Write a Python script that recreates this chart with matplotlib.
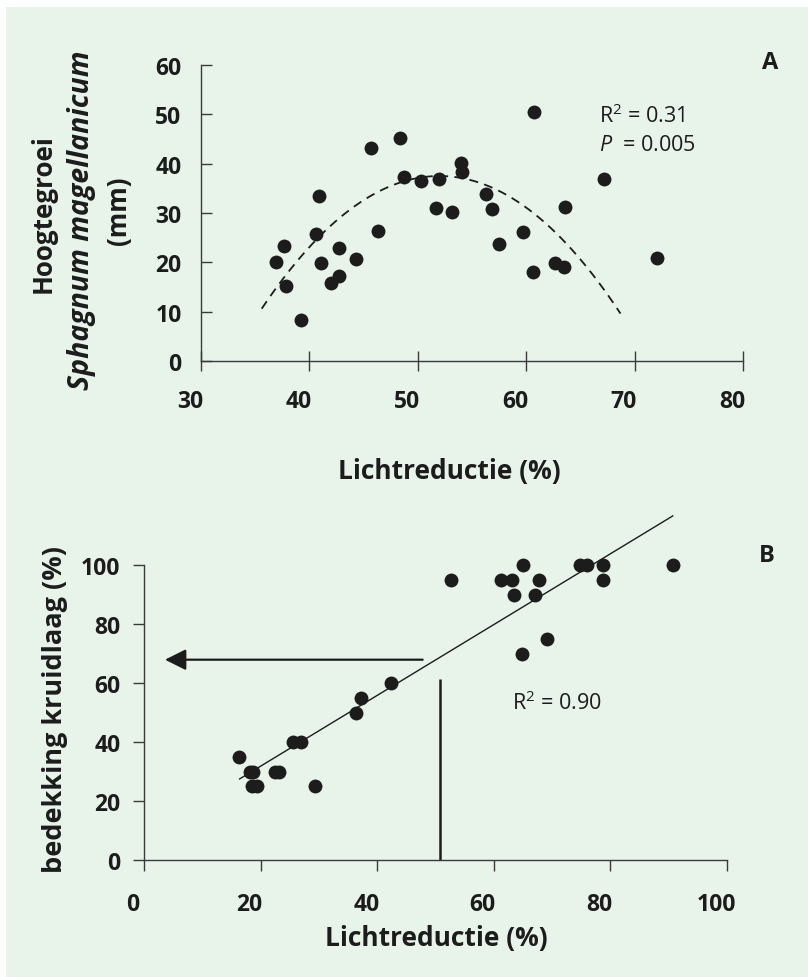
import matplotlib
matplotlib.use('Agg')
import matplotlib.pyplot as plt
import numpy as np
from matplotlib.patches import Rectangle
from matplotlib import transforms

# ---------------- data ----------------
# Panel A: Hoogtegroei Sphagnum magellanicum vs Lichtreductie
a_x = [36.9, 37.7, 37.8, 39.2, 40.6, 40.9, 41.1, 42.0, 42.7, 42.7, 44.3, 45.7,
       46.3, 48.4, 48.7, 50.3, 52.0, 51.7, 53.2, 54.0, 54.1, 56.3, 56.8, 57.5,
       59.7, 60.6, 60.7, 62.7, 63.5, 63.6, 67.2, 72.1]
a_y = [20.0, 23.3, 15.2, 8.3, 25.8, 33.5, 19.9, 15.8, 22.9, 17.2, 20.7, 43.2,
       26.4, 45.2, 37.3, 36.5, 36.9, 31.0, 30.3, 40.1, 38.3, 33.9, 30.8, 23.7,
       26.2, 18.0, 50.5, 19.9, 19.1, 31.2, 36.9, 20.9]
# quadratic fit: y = peak + curv * (x - vertex)^2
a_fit_vertex = 52.0
a_fit_peak = 37.5
a_fit_curv = -0.1000
a_fit_range = (35.6, 68.7)
a_xticks = [30, 40, 50, 60, 70, 80]
a_yticks = [0, 10, 20, 30, 40, 50, 60]

# Panel B: bedekking kruidlaag vs Lichtreductie
b_x = [16.3, 18.1, 18.7, 18.5, 19.3, 22.5, 23.1, 25.5, 27.0, 29.4, 36.4, 37.2,
       42.4, 52.6, 61.3, 63.1, 65.0, 63.5, 67.7, 67.0, 64.9, 69.2, 74.7, 76.0,
       78.8, 78.8, 90.7]
b_y = [35, 30, 30, 25, 25, 30, 30, 40, 40, 25, 50, 55,
       60, 95, 95, 95, 100, 90, 95, 90, 70, 75, 100, 100,
       100, 95, 100]
b_fit_slope = 1.20
b_fit_intercept = 7.8
b_fit_range = (16.4, 90.7)
b_arrow_y = 67.9
b_arrow_from = 47.8
b_arrow_to = 3.6
b_vline_x = 50.8
b_vline_top = 61.2
b_ticks = [0, 20, 40, 60, 80, 100]

# ---------------- style ----------------
bg = '#e8f3ea'
ink = '#1c1c1c'
axc = '#3a3a3a'
font = 'Open Sans'
tick_fs = 16.5

plt.rcParams['mathtext.fontset'] = 'custom'
plt.rcParams['mathtext.rm'] = 'Open Sans'
plt.rcParams['mathtext.it'] = 'Open Sans:italic'

W, H = 808, 978
fig = plt.figure(figsize=(W / 100, H / 100), dpi=100)
fig.patch.set_facecolor('white')
fig.patches.append(Rectangle((6 / W, 0), 1 - 6 / W, 1 - 8 / H,
                             transform=fig.transFigure, facecolor=bg,
                             edgecolor='none', zorder=-10))

def fx(px):
    return px / W

def fy(py):
    return 1 - py / H

shift = transforms.ScaledTranslation(-11 / 100, 0, fig.dpi_scale_trans)

def style_ticklabels(ax):
    for lab in ax.get_yticklabels():
        lab.set_fontfamily(font)
        lab.set_fontweight('bold')
        lab.set_fontsize(tick_fs)
        lab.set_color(ink)
    for lab in ax.get_xticklabels():
        lab.set_fontfamily(font)
        lab.set_fontweight('bold')
        lab.set_fontsize(tick_fs)
        lab.set_color(ink)
        lab.set_transform(lab.get_transform() + shift)

# ---------------- Panel A ----------------
axA = fig.add_axes([fx(201), fy(362), fx(743) - fx(201), fy(66) - fy(362)])
axA.set_facecolor('none')
axA.scatter(a_x, a_y, s=100, color=ink, zorder=3, linewidths=0, clip_on=False)
xf = np.linspace(a_fit_range[0], a_fit_range[1], 200)
axA.plot(xf, a_fit_peak + a_fit_curv * (xf - a_fit_vertex) ** 2,
         color=ink, lw=1.3, dashes=(5, 3.5), zorder=2, clip_on=False)
axA.set_xlim(30, 80)
axA.set_ylim(0, 60)
axA.set_xticks(a_xticks)
axA.set_yticks(a_yticks)
for s in ['top', 'right']:
    axA.spines[s].set_visible(False)
for s in ['left', 'bottom']:
    axA.spines[s].set_color(axc)
    axA.spines[s].set_linewidth(1.0)
axA.tick_params(axis='y', direction='in', length=8, width=1.0, color=axc, pad=14)
axA.tick_params(axis='x', direction='inout', length=14, width=1.0, color=axc, pad=13)
style_ticklabels(axA)

axA.text(0.735, 0.832, 'R$^{2}$ = 0.31', transform=axA.transAxes,
         fontfamily=font, fontsize=15.5, color=ink, va='center', ha='left')
axA.text(0.735, 0.73, '$\\mathit{P}$  = 0.005', transform=axA.transAxes,
         fontfamily=font, fontsize=15.5, color=ink, va='center', ha='left')

fig.text(fx(770), fy(63), 'A', fontfamily=font, fontweight='bold',
         fontsize=17, color=ink, ha='center', va='center')
fig.text(fx(43), fy(214), 'Hoogtegroei', rotation=90, fontfamily=font,
         fontweight='bold', fontsize=18.7, color=ink, ha='center', va='center')
fig.text(fx(82), fy(220), 'Sphagnum magellanicum', rotation=90, fontfamily=font,
         fontweight='bold', fontstyle='italic', fontsize=20.5, color=ink,
         ha='center', va='center')
fig.text(fx(119), fy(211), '(mm)', rotation=90, fontfamily=font,
         fontweight='bold', fontsize=18.7, color=ink, ha='center', va='center')
fig.text(fx(449), fy(472), 'Lichtreductie (%)', fontfamily=font,
         fontweight='bold', fontsize=19, color=ink, ha='center', va='center')

# ---------------- Panel B ----------------
axB = fig.add_axes([fx(144), fy(861), fx(727) - fx(144), fy(566) - fy(861)])
axB.set_facecolor('none')
axB.scatter(b_x, b_y, s=100, color=ink, zorder=3, linewidths=0, clip_on=False)
xl = np.array(b_fit_range)
axB.plot(xl, b_fit_intercept + b_fit_slope * xl, color=ink, lw=1.0, zorder=2,
         clip_on=False)
axB.annotate('', xy=(b_arrow_to, b_arrow_y), xytext=(b_arrow_from, b_arrow_y),
             arrowprops=dict(arrowstyle='-|>,head_length=0.8,head_width=0.4',
                             mutation_scale=16, lw=1.6, color=ink,
                             shrinkA=0, shrinkB=0), zorder=2)
axB.plot([b_vline_x, b_vline_x], [0, b_vline_top], color=ink, lw=1.8, zorder=2,
         solid_capstyle='butt')
axB.set_xlim(0, 100)
axB.set_ylim(0, 100)
axB.set_xticks(b_ticks)
axB.set_yticks(b_ticks)
for s in ['top', 'right']:
    axB.spines[s].set_visible(False)
for s in ['left', 'bottom']:
    axB.spines[s].set_color(axc)
    axB.spines[s].set_linewidth(1.0)
axB.tick_params(axis='y', direction='out', length=8, width=1.0, color=axc, pad=9)
axB.tick_params(axis='x', direction='out', length=8, width=1.0, color=axc, pad=15)
style_ticklabels(axB)

axB.text(63.2, 53.5, 'R$^{2}$ = 0.90', fontfamily=font, fontsize=15.5,
         color=ink, va='center', ha='left')
fig.text(fx(767), fy(556), 'B', fontfamily=font, fontweight='bold',
         fontsize=17, color=ink, ha='center', va='center')
fig.text(fx(55), fy(710), 'bedekking kruidlaag (%)', rotation=90,
         fontfamily=font, fontweight='bold', fontsize=19.5, color=ink,
         ha='center', va='center')
fig.text(fx(436), fy(939), 'Lichtreductie (%)', fontfamily=font,
         fontweight='bold', fontsize=19, color=ink, ha='center', va='center')

fig.savefig('out.png', dpi=100)
